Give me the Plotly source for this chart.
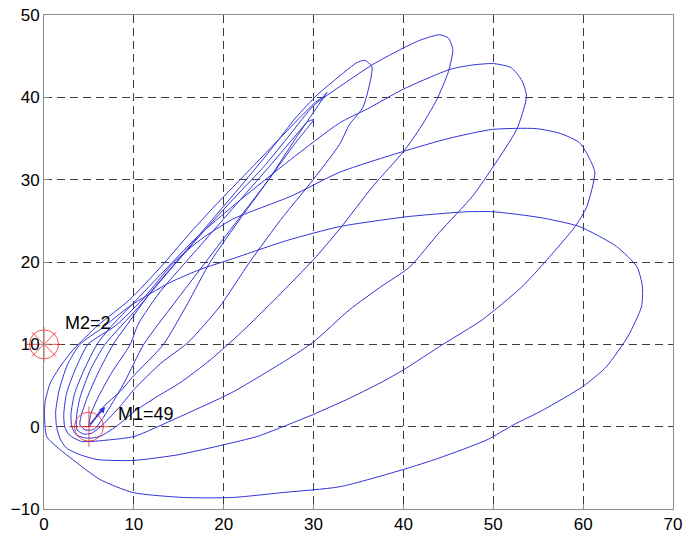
import plotly.graph_objects as go

# Trajectory, drawn as a sequence of loops (x, y pairs read along each loop)
loop_f_x = [5.0, 6.5, 8.5, 10.0, 13.3, 16.0, 18.5, 22.0, 25.0, 28.0, 30.5, 31.5, 31.0, 30.2, 28.0, 25.0, 22.0, 19.0, 16.0, 13.0, 9.5, 6.0, 3.3, 1.8, 0.7, 0.15]
loop_f_y = [0.0, 2.3, 4.3, 6.2, 10.0, 15.0, 20.0, 25.5, 30.0, 35.0, 39.0, 40.6, 40.0, 39.4, 37.0, 33.6, 30.2, 26.8, 23.2, 19.4, 15.4, 12.3, 9.4, 7.3, 5.3, 3.2]

loop_a_x = [0.05, 0.3, 1.8, 3.2, 6.2, 9.9, 15.5, 21.0, 26.6, 32.9, 40.0, 44.0, 49.3, 52.2, 55.5, 60.0, 62.6, 65.0, 66.5, 66.6, 66.0, 63.7, 59.6, 55.2, 50.0, 47.0, 40.4, 32.9, 27.0, 21.0, 17.4, 14.0, 9.5, 6.5, 4.0, 2.6, 1.7, 1.3]
loop_a_y = [1.7, -1.2, -2.8, -4.0, -6.4, -8.0, -8.6, -8.6, -8.0, -7.3, -5.2, -3.8, -1.6, 0.2, 2.0, 4.9, 7.3, 11.0, 14.6, 17.0, 19.4, 21.9, 24.3, 25.4, 26.1, 26.1, 25.5, 24.3, 22.6, 20.4, 19.1, 17.5, 14.6, 12.0, 10.0, 7.5, 4.5, 1.8]

loop_b_x = [1.4, 1.8, 2.5, 4.0, 6.0, 10.0, 15.0, 20.0, 23.7, 26.6, 30.0, 33.7, 37.4, 40.0, 44.4, 48.8, 53.2, 56.0, 59.1, 60.4, 61.3, 60.5, 59.6, 57.5, 54.8, 49.9, 45.0, 39.9, 32.9, 27.5, 21.0, 17.4, 14.4, 11.0, 8.0, 4.9, 3.5, 2.5, 2.2]
loop_b_y = [0.0, -1.5, -2.6, -3.4, -4.0, -4.1, -3.4, -2.2, -1.2, 0.0, 1.5, 3.3, 5.3, 6.9, 10.0, 13.0, 17.0, 20.3, 24.3, 26.7, 30.9, 33.0, 34.5, 35.6, 36.2, 36.1, 35.0, 33.4, 30.9, 28.0, 25.2, 22.7, 19.9, 15.5, 12.3, 10.0, 7.0, 4.0, 1.5]

loop_c_x = [2.3, 2.8, 4.2, 7.3, 10.0, 14.7, 19.9, 21.5, 27.0, 30.0, 34.0, 37.5, 40.7, 44.0, 47.7, 50.0, 52.6, 53.7, 53.2, 52.0, 50.0, 47.5, 45.2, 40.0, 36.0, 32.9, 27.4, 21.8, 17.0, 13.0, 9.5, 7.5, 5.9, 4.5, 3.4, 3.0]
loop_c_y = [0.0, -1.0, -1.8, -1.6, -1.2, 1.0, 3.6, 4.5, 8.1, 10.3, 14.2, 17.0, 19.4, 23.6, 28.0, 31.6, 36.1, 40.1, 42.0, 43.6, 44.1, 43.9, 43.4, 41.0, 38.6, 36.9, 32.4, 27.5, 23.0, 18.5, 14.5, 12.2, 10.0, 7.0, 4.0, 1.5]

loop_d_x = [3.1, 3.6, 4.8, 6.2, 8.0, 10.0, 12.5, 15.1, 18.5, 22.0, 26.0, 30.0, 32.9, 36.6, 40.0, 42.0, 43.7, 45.0, 45.5, 45.0, 44.0, 42.0, 40.0, 36.6, 32.9, 30.0, 27.4, 24.4, 21.8, 18.0, 14.0, 10.5, 6.8, 5.2, 4.0, 3.6]
loop_d_y = [0.0, -1.0, -1.4, -1.2, 0.0, 1.8, 3.6, 5.3, 8.1, 11.5, 15.8, 20.3, 24.0, 29.2, 33.4, 36.5, 39.7, 43.1, 45.8, 47.2, 47.6, 47.0, 46.0, 44.0, 41.3, 39.0, 35.5, 31.5, 28.5, 24.0, 19.0, 14.5, 10.0, 7.0, 3.5, 1.0]

loop_e_x = [3.7, 4.4, 5.3, 6.5, 8.5, 10.0, 13.0, 16.0, 19.5, 22.9, 26.6, 29.6, 32.9, 34.0, 35.5, 36.3, 36.5, 35.7, 34.8, 31.8, 30.4, 28.0, 25.5, 22.5, 19.0, 15.5, 12.0, 9.0, 7.7, 6.0, 4.8, 4.1]
loop_e_y = [-0.4, -0.9, -0.8, 0.2, 2.5, 4.5, 7.7, 10.2, 14.5, 20.0, 25.5, 29.5, 34.3, 36.7, 38.8, 41.9, 43.7, 44.5, 44.2, 41.6, 40.3, 37.5, 34.0, 30.0, 25.5, 21.0, 16.5, 12.0, 10.0, 6.5, 3.5, 1.2]

loop_g_x = [4.0, 4.6, 5.6, 7.0, 9.0, 11.1, 14.5, 18.0, 21.5, 25.0, 28.0, 30.0, 29.3, 28.5, 25.0, 21.0, 17.0, 13.0, 10.5, 9.6, 7.5, 6.0, 5.2, 5.0]
loop_g_y = [0.2, -0.4, -0.3, 1.8, 5.5, 10.0, 15.0, 20.0, 25.0, 30.0, 34.5, 37.3, 37.0, 36.0, 31.5, 26.5, 21.5, 16.5, 12.5, 10.0, 6.5, 3.5, 1.5, 0.0]

# Point masses and their labels
mass_names = ["M1=49", "M2=2"]
mass_x = [5, 0]
mass_y = [0, 10]
label_x = [8.0, 2.1]
label_y = [1.5, 12.6]

# Direction arrow at the end of the trajectory
arrow_tail = (5.0, 0.1)
arrow_head = (6.8, 2.4)

x_ticks = [0, 10, 20, 30, 40, 50, 60, 70]
y_ticks = [-10, 0, 10, 20, 30, 40, 50]

path_x = loop_f_x + loop_a_x + loop_b_x + loop_c_x + loop_d_x + loop_e_x + loop_g_x
path_y = loop_f_y + loop_a_y + loop_b_y + loop_c_y + loop_d_y + loop_e_y + loop_g_y

blue = "rgb(50,50,215)"
red = "rgb(235,40,40)"
font_family = "Liberation Sans, Arial"

fig = go.Figure()
fig.add_trace(go.Scatter(
    x=path_x, y=path_y, mode="lines",
    line=dict(color=blue, width=1, shape="spline", smoothing=0.6),
    hoverinfo="skip", showlegend=False,
))

# M1: circle with a cross; M2: circle with an asterisk
mass_symbols = [["circle-open", "cross-thin-open"], ["circle-open", "asterisk-open"]]
for mx, my, symbols in zip(mass_x, mass_y, mass_symbols):
    for sym in symbols:
        fig.add_trace(go.Scatter(
            x=[mx], y=[my], mode="markers", cliponaxis=False,
            marker=dict(symbol=sym, size=29, color=red, line=dict(color=red, width=0.8)),
            hoverinfo="skip", showlegend=False))

for name, lx, ly in zip(mass_names, label_x, label_y):
    fig.add_annotation(x=lx, y=ly, text=name, showarrow=False,
                       xanchor="left", yanchor="middle",
                       font=dict(family=font_family, size=18, color="black"))

fig.add_annotation(x=arrow_head[0], y=arrow_head[1], ax=arrow_tail[0], ay=arrow_tail[1],
                   xref="x", yref="y", axref="x", ayref="y", text="",
                   showarrow=True, arrowhead=2, arrowsize=0.8, arrowwidth=1.5,
                   arrowcolor=blue)

axis_common = dict(
    showgrid=True, gridcolor="rgb(60,60,60)", gridwidth=1, griddash="8px,5px",
    showline=True, linecolor="rgb(140,140,140)", linewidth=1, mirror=True,
    ticks="inside", ticklen=5, tickcolor="rgb(140,140,140)",
    zeroline=False, automargin=False,
    tickfont=dict(family=font_family, size=17, color="black"),
)
fig.update_xaxes(range=[0, 70], tickvals=x_ticks, ticklabelstandoff=0, **axis_common)
fig.update_yaxes(range=[-10, 50], tickvals=y_ticks, **axis_common)

fig.update_layout(
    width=684, height=534,
    margin=dict(l=44, r=11, t=15, b=25),
    plot_bgcolor="white", paper_bgcolor="white",
)

fig.write_html("out.html")
